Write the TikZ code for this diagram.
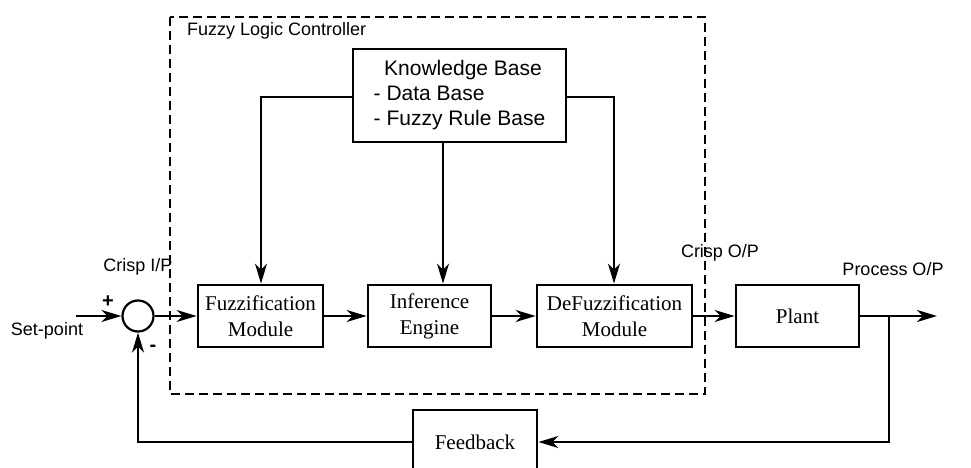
\documentclass[tikz,border=0pt]{standalone}
\usepackage{fontspec}
\setmainfont{Liberation Serif}
\setsansfont{Liberation Sans}
\usetikzlibrary{arrows.meta}
\begin{document}
\begin{tikzpicture}[x=1pt,y=-1pt,
  line width=2.2pt,
  blk/.style={draw, rectangle, line width=2.8pt, inner sep=0pt, font=\fontsize{21}{26}\selectfont, align=center},
  lbl/.style={font=\sffamily\fontsize{18}{22}\selectfont, inner sep=0pt},
  arr/.style={-{Stealth[length=20pt,width=12pt,inset=6pt]}},
  flc/.style={draw, dash pattern=on 9pt off 5pt, line width=2.6pt}
]
\useasboundingbox (0,0) rectangle (971,468);
% dashed controller frame
\draw[flc] (170,17) rectangle (705,394);
\node[lbl, anchor=west] (flclbl) at (186,31) {Fuzzy Logic Controller};
% blocks
\node[draw, rectangle, line width=2.8pt, minimum width=213pt, minimum height=93pt, align=left,
      font=\sffamily\fontsize{21}{25}\selectfont] (kb) at (459.5,95.5)
  {\hspace{0.5em}Knowledge Base\\- Data Base\\- Fuzzy Rule Base};
\node[blk, minimum width=125pt, minimum height=62pt] (fuz) at (260.5,316) {Fuzzification\\Module};
\node[blk, minimum width=123pt, minimum height=62pt] (inf) at (429.5,316) {Inference\\Engine};
\node[blk, minimum width=155pt, minimum height=62pt] (def) at (614.5,316) {DeFuzzification\\Module};
\node[blk, minimum width=123pt, minimum height=62pt] (plant) at (797.5,316) {Plant};
\node[blk, minimum width=124pt, minimum height=64pt] (fb) at (475,442) {Feedback};
\node[draw, circle, line width=2.2pt, minimum size=31pt, inner sep=0pt] (sum) at (138,316) {};
% coordinates
\coordinate (sp) at (76,316);
\coordinate (kbl) at (261,97);
\coordinate (kbr) at (614,97);
\coordinate (kbm) at (443,142);
\coordinate (br) at (889,316);
\coordinate (out) at (937,316);
\coordinate (fbr) at (889,442);
\coordinate (fbl) at (138,442);
% KB connectors
\draw[arr] (kb.west |- kbl) -- (kbl) -- (fuz.north -| kbl);
\draw[arr] (kb.east |- kbr) -- (kbr) -- (def.north -| kbr);
\draw[arr] (kbm) -- (inf.north -| kbm);
% forward path
\draw[arr] (sp) -- (sum.west);
\draw[arr] (sum.east) -- (fuz.west);
\draw[arr] (fuz.east) -- (inf.west);
\draw[arr] (inf.east) -- (def.west);
\draw[arr] (def.east) -- (plant.west);
\draw[arr] (plant.east) -- (out);
% feedback
\draw[arr] (br) -- (fbr) -- (fb.east);
\draw[arr] (fb.west) -- (fbl) -- (sum.south);
% labels
\node[lbl] (cip) at (138,267) {Crisp I/P};
\node[lbl] (cop) at (720,253) {Crisp O/P};
\node[lbl] (pop) at (893,269) {Process O/P};
\node[lbl] (setp) at (47,331) {Set-point};
\node[font=\sffamily\bfseries\fontsize{20}{22}\selectfont, inner sep=0pt] (plus) at (108,302) {+};
\node[font=\sffamily\bfseries\fontsize{20}{22}\selectfont, inner sep=0pt] (minus) at (153,348) {-};
\end{tikzpicture}
\end{document}
